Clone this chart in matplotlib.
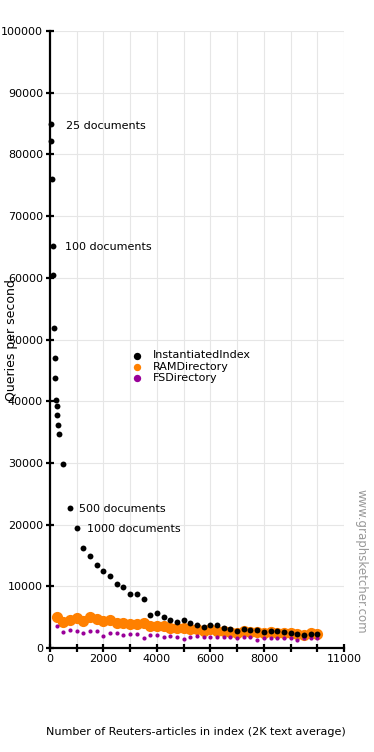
import matplotlib
matplotlib.use("Agg")
import matplotlib.pyplot as plt
from matplotlib.ticker import FixedLocator, FuncFormatter

# ---- data (queries per second) ----
inst_x = [25, 50, 75, 100, 125, 150, 175, 200, 225, 250, 275, 300, 325,
          500, 750, 1000, 1250, 1500, 1750, 2000, 2250, 2500, 2750, 3000, 3250,
          3500, 3750, 4000, 4250, 4500, 4750, 5000, 5250, 5500, 5750, 6000,
          6250, 6500, 6750, 7000, 7250, 7500, 7750, 8000, 8250, 8500, 8750,
          9000, 9250, 9500, 9750, 10000]
inst_y = [84900, 82100, 76000, 65200, 60500, 51800, 47000, 43800, 40200, 39200, 37700, 36100, 34700,
          29800, 22700, 19400, 16200, 14900, 13400, 12500, 11700, 10300, 9900, 8700, 8700,
          8000, 5400, 5700, 5100, 4500, 4200, 4500, 4100, 3800, 3400, 3800,
          3700, 3200, 3000, 2800, 3100, 2900, 2900, 2650, 2700, 2700, 2600,
          2400, 2300, 2100, 2300, 2300]

dir_x = [250, 500, 750, 1000, 1250, 1500, 1750, 2000, 2250, 2500, 2750, 3000,
         3250, 3500, 3750, 4000, 4250, 4500, 4750, 5000, 5250, 5500, 5750, 6000,
         6250, 6500, 6750, 7000, 7250, 7500, 7750, 8000, 8250, 8500, 8750, 9000,
         9250, 9500, 9750, 10000]
ram_y = [5000, 4200, 4500, 4800, 4400, 5000, 4700, 4400, 4500, 4100, 4100, 3900,
         3900, 4000, 3500, 3600, 3500, 3300, 3200, 3200, 3000, 3100, 2800, 3000,
         2800, 2800, 2600, 2500, 2700, 2600, 2600, 2500, 2600, 2500, 2500, 2400,
         2300, 2100, 2400, 2200]
fs_y = [3600, 2650, 2900, 2800, 2400, 2700, 2700, 1950, 2500, 2400, 2100, 2300,
        2200, 1600, 2050, 2150, 1850, 2000, 1850, 1400, 1800, 1900, 1750, 1750,
        1800, 1850, 1850, 1600, 1800, 1750, 1300, 1700, 1550, 1550, 1700, 1600,
        1300, 1550, 1650, 1550]

series_names = ["InstantiatedIndex", "RAMDirectory", "FSDirectory"]
series_colors = ["#000000", "#FF8000", "#990099"]

annotations = ["25 documents", "100 documents", "500 documents", "1000 documents"]
annot_pos = [(600, 84600), (560, 65000), (1085, 22500), (1385, 19300)]

x_ticks = [0, 1000, 2000, 3000, 4000, 5000, 6000, 7000, 8000, 9000, 10000, 11000]
x_labeled = [0, 2000, 4000, 6000, 8000, 11000]
y_ticks = [0, 10000, 20000, 30000, 40000, 50000, 60000, 70000, 80000, 90000, 100000]

# ---- figure ----
plt.rcParams['font.family'] = ['DejaVu Sans']
fig = plt.figure(figsize=(3.74, 7.52), dpi=100)
W, H = 374, 752
ax = fig.add_axes([50 / W, 1 - 648 / H, (344 - 50) / W, (648 - 31) / H])
ax.set_xlim(0, 11000)
ax.set_ylim(0, 100000)

ax.scatter(dir_x, ram_y, s=65, color=series_colors[1], label=series_names[1],
           zorder=3, linewidths=0, clip_on=False)
ax.scatter(dir_x, fs_y, s=9, color=series_colors[2], label=series_names[2],
           zorder=4, linewidths=0, clip_on=False)
ax.scatter(inst_x, inst_y, s=18, color=series_colors[0], label=series_names[0],
           zorder=5, linewidths=0, clip_on=False)

for txt, (tx, ty) in zip(annotations, annot_pos):
    ax.text(tx, ty, txt, fontsize=8, ha='left', va='center', color='black')

# grid / axes
ax.xaxis.set_major_locator(FixedLocator(x_ticks))
ax.yaxis.set_major_locator(FixedLocator(y_ticks))
ax.xaxis.set_major_formatter(FuncFormatter(lambda v, p: f"{int(v)}" if int(v) in x_labeled else ""))
ax.yaxis.set_major_formatter(FuncFormatter(lambda v, p: f"{int(v)}"))
ax.grid(True, color='#e6e6e6', linewidth=0.8, zorder=0)
ax.set_axisbelow(True)
for side in ['top', 'right']:
    ax.spines[side].set_visible(False)
for side in ['left', 'bottom']:
    ax.spines[side].set_linewidth(1.6)
    ax.spines[side].set_zorder(6)
ax.tick_params(axis='both', direction='inout', length=6, width=1.6, labelsize=8,
               colors='black', pad=2)
ax.tick_params(axis='x', pad=1)

# legend
handles, labels = ax.get_legend_handles_labels()
order = [2, 0, 1]
leg = ax.legend([handles[i] for i in order], [labels[i] for i in order],
                frameon=False, fontsize=8, loc='upper left',
                bbox_to_anchor=(131.5 / W, 1 - 350.5 / H), bbox_transform=fig.transFigure,
                borderpad=0, borderaxespad=0, handlelength=1.0, handletextpad=0.95,
                labelspacing=0.12, scatterpoints=1)
for h in leg.legend_handles:
    h.set_sizes([28])

# axis labels
fig.text(12 / W, 1 - 340 / H, "Queries per second", rotation=90, fontsize=9,
         ha='center', va='center')
fig.text(196 / W, 1 - 732 / H, "Number of Reuters-articles in index (2K text average)",
         fontsize=8, ha='center', va='center')
fig.text(361 / W, 1 - 561 / H, "www.graphsketcher.com", rotation=270, fontsize=8.5,
         color='#999999', ha='center', va='center')

fig.savefig("out.png", dpi=100)
